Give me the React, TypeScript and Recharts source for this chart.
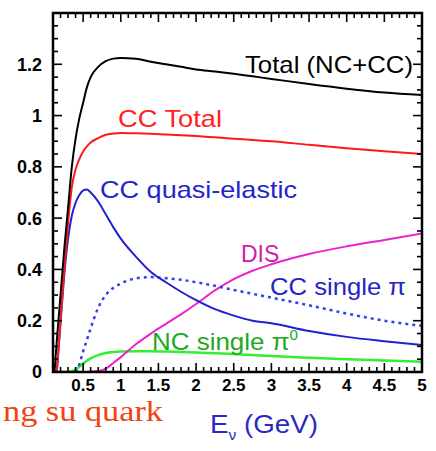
import React from 'react';
import { LineChart, Line, XAxis, YAxis } from 'recharts';

// Neutrino cross sections per nucleon vs E_nu (GeV)
const energies = [0.1, 0.12, 0.15, 0.2, 0.25, 0.3, 0.35, 0.4, 0.45, 0.5, 0.55, 0.6, 0.7, 0.8, 0.9, 1.0, 1.2, 1.4, 1.6, 1.8, 2.0, 2.25, 2.5, 2.75, 3.0, 3.5, 4.0, 4.5, 5.0];

const totalNcCc = [null, 0, 0.12, 0.3, 0.48, 0.64, 0.8, 0.91, 0.99, 1.05, 1.11, 1.15, 1.19, 1.212, 1.222, 1.225, 1.222, 1.21, 1.2, 1.19, 1.18, 1.172, 1.163, 1.153, 1.143, 1.123, 1.105, 1.09, 1.08];
const ccTotal = [null, null, 0, 0.2, 0.4, 0.58, 0.72, 0.79, 0.83, 0.86, 0.88, 0.895, 0.912, 0.925, 0.93, 0.932, 0.931, 0.929, 0.926, 0.923, 0.92, 0.915, 0.91, 0.905, 0.9, 0.886, 0.873, 0.861, 0.85];
const ccQuasiElastic = [null, null, 0, 0.19, 0.38, 0.52, 0.61, 0.66, 0.69, 0.708, 0.712, 0.7, 0.665, 0.615, 0.565, 0.52, 0.45, 0.39, 0.35, 0.313, 0.28, 0.245, 0.22, 0.2, 0.19, 0.16, 0.137, 0.12, 0.105];
const ccSinglePi = [null, null, null, null, null, null, null, 0, 0.03, 0.08, 0.125, 0.17, 0.25, 0.3, 0.328, 0.345, 0.365, 0.37, 0.366, 0.36, 0.35, 0.336, 0.32, 0.305, 0.29, 0.26, 0.228, 0.2, 0.18];
const dis = [null, null, null, null, null, null, null, 0, 0, 0, 0, 0.001, 0.004, 0.013, 0.035, 0.058, 0.108, 0.15, 0.188, 0.225, 0.265, 0.318, 0.362, 0.395, 0.42, 0.46, 0.49, 0.515, 0.54];
const ncSinglePi0 = [0, 0, 0, 0, 0, 0, 0.003, 0.01, 0.02, 0.032, 0.044, 0.053, 0.066, 0.074, 0.078, 0.08, 0.081, 0.081, 0.08, 0.078, 0.076, 0.073, 0.07, 0.066, 0.062, 0.056, 0.05, 0.045, 0.04];

const xTicks = [0.5, 1, 1.5, 2, 2.5, 3, 3.5, 4, 4.5, 5];
const yTicks = [0, 0.2, 0.4, 0.6, 0.8, 1, 1.2];

const steps = (from: number, to: number, step: number) => {
  const out: number[] = [];
  for (let v = from; v <= to + 1e-9; v += step) out.push(Math.round(v * 100) / 100);
  return out;
};
const xMinor = steps(0.1, 5, 0.1);
const yMinor = steps(0, 1.4, 0.05);

const data = energies.map((e, i) => ({
  e,
  total: totalNcCc[i],
  cc: ccTotal[i],
  qe: ccQuasiElastic[i],
  pi: ccSinglePi[i],
  dis: dis[i],
  pi0: ncSinglePi0[i],
}));

const X_DOMAIN: [number, number] = [0.1, 5];
const Y_DOMAIN: [number, number] = [0, 1.4];
const FONT = '"Liberation Sans", Arial, sans-serif';

// chart box
const W = 436;
const H = 451;
const MARGIN = { top: 13, right: 14, bottom: 49, left: 0 };
const Y_AXIS_W = 53;
const X_AXIS_H = 30;
const X_LABEL_GAP = 7;
const Y_LABEL_GAP = 11;
const PLOT = {
  left: MARGIN.left + Y_AXIS_W,
  top: MARGIN.top,
  right: W - MARGIN.right,
  bottom: H - MARGIN.bottom - X_AXIS_H,
};

const isMajorX = (v: number) => xTicks.some((t) => Math.abs(t - v) < 1e-6);
const isMajorY = (v: number) => yTicks.some((t) => Math.abs(t - v) < 1e-6);
const tickLen = (major: boolean) => (major ? 9 : 5);

// bottom axis: inward tick + bold label on the major ones
const BottomTick = (props: any) => {
  const { x, y, payload } = props;
  const v = payload.value;
  const major = isMajorX(v);
  const y0 = y - X_LABEL_GAP;
  return (
    <g>
      <line x1={x} y1={y0} x2={x} y2={y0 - tickLen(major)} stroke="#000" strokeWidth={1.6} />
      {major && (
        <text x={x} y={y} dy="0.71em" textAnchor="middle" fill="#000" fontSize={17} fontWeight="bold" fontFamily={FONT}>
          {String(v)}
        </text>
      )}
    </g>
  );
};

// left axis: inward tick + bold label on the major ones
const LeftTick = (props: any) => {
  const { x, y, payload } = props;
  const v = payload.value;
  const major = isMajorY(v);
  const x0 = x + Y_LABEL_GAP;
  return (
    <g>
      <line x1={x0} y1={y} x2={x0 + tickLen(major)} y2={y} stroke="#000" strokeWidth={1.6} />
      {major && (
        <text x={x} y={y} dy="0.36em" textAnchor="end" fill="#000" fontSize={18} fontWeight="bold" fontFamily={FONT}>
          {String(v)}
        </text>
      )}
    </g>
  );
};

// top / right: tick marks only (mirrored axes sit on the frame)
const TopTick = (props: any) => {
  const { x, y, payload } = props;
  return <line x1={x} y1={y} x2={x} y2={y + tickLen(isMajorX(payload.value))} stroke="#000" strokeWidth={1.6} />;
};
const RightTick = (props: any) => {
  const { x, y, payload } = props;
  return <line x1={x} y1={y} x2={x - tickLen(isMajorY(payload.value))} y2={y} stroke="#000" strokeWidth={1.6} />;
};

const App: React.FC = () => {
  return (
    <div style={styles.page}>
      <LineChart width={W} height={H} data={data} margin={MARGIN}>
        <XAxis
          dataKey="e"
          type="number"
          domain={X_DOMAIN}
          allowDataOverflow
          ticks={xMinor}
          interval={0}
          height={X_AXIS_H}
          axisLine={false}
          tickLine={false}
          tickSize={0}
          tickMargin={X_LABEL_GAP}
          tick={<BottomTick />}
        />
        <YAxis
          type="number"
          domain={Y_DOMAIN}
          allowDataOverflow
          ticks={yMinor}
          interval={0}
          width={Y_AXIS_W}
          axisLine={false}
          tickLine={false}
          tickSize={0}
          tickMargin={Y_LABEL_GAP}
          tick={<LeftTick />}
        />
        <XAxis
          xAxisId="t"
          dataKey="e"
          orientation="top"
          type="number"
          domain={X_DOMAIN}
          allowDataOverflow
          mirror
          height={1}
          ticks={xMinor}
          interval={0}
          tickSize={0}
          tickMargin={0}
          tickLine={false}
          axisLine={false}
          tick={<TopTick />}
        />
        <YAxis
          yAxisId="r"
          orientation="right"
          type="number"
          domain={Y_DOMAIN}
          allowDataOverflow
          mirror
          width={1}
          ticks={yMinor}
          interval={0}
          tickSize={0}
          tickMargin={0}
          tickLine={false}
          axisLine={false}
          tick={<RightTick />}
        />

        <Line xAxisId="t" yAxisId="r" type="monotone" dataKey="pi0" stroke="#33ee33" strokeWidth={2.5} dot={false} isAnimationActive={false} />
        <Line xAxisId="t" yAxisId="r" type="monotone" dataKey="dis" stroke="#ee22cc" strokeWidth={2} dot={false} isAnimationActive={false} />
        <Line xAxisId="t" yAxisId="r" type="monotone" dataKey="pi" stroke="#3340ee" strokeWidth={2.5} strokeDasharray="3 4" dot={false} isAnimationActive={false} />
        <Line type="monotone" dataKey="qe" stroke="#2020d0" strokeWidth={2} dot={false} isAnimationActive={false} />
        <Line type="monotone" dataKey="cc" stroke="#ff1a1a" strokeWidth={2} dot={false} isAnimationActive={false} />
        <Line type="monotone" dataKey="total" stroke="#000" strokeWidth={2} dot={false} isAnimationActive={false} />
      </LineChart>

      <svg width={W} height={H} style={styles.overlay}>
        {/* plot frame */}
        <rect
          x={PLOT.left}
          y={PLOT.top}
          width={PLOT.right - PLOT.left}
          height={PLOT.bottom - PLOT.top}
          fill="none"
          stroke="#000"
          strokeWidth={2.5}
        />
        <g fontFamily={FONT} fontSize={24}>
          <text x={245} y={73} fill="#000" textLength={168} lengthAdjust="spacingAndGlyphs">Total (NC+CC)</text>
          <text x={118} y={127} fill="#ff2222" textLength={104} lengthAdjust="spacingAndGlyphs">CC Total</text>
          <text x={100} y={198} fill="#2424c8" textLength={197} lengthAdjust="spacingAndGlyphs">CC quasi-elastic</text>
          <text x={241} y={262} fill="#d020a8" fontSize={23}>DIS</text>
          <text x={270} y={295} fill="#2424c8" textLength={136} lengthAdjust="spacingAndGlyphs">CC single π</text>
          <text x={152} y={350} fill="#22a822" textLength={146} lengthAdjust="spacingAndGlyphs">
            NC single π<tspan fontSize={14} dy={-10}>0</tspan>
          </text>
          <text x={210} y={433} fill="#2a2ac0" fontSize={25} textLength={108} lengthAdjust="spacingAndGlyphs">
            E<tspan fontSize={14} dy={7}>ν</tspan>
            <tspan dy={-7}> (GeV)</tspan>
          </text>
        </g>
        <text
          x={3}
          y={421}
          fill="#ee4411"
          fontSize={30}
          textLength={160}
          lengthAdjust="spacingAndGlyphs"
          fontFamily='"Liberation Serif", "Times New Roman", serif'
        >
          ng su quark
        </text>
      </svg>
    </div>
  );
};

const styles: Record<string, React.CSSProperties> = {
  page: {
    position: 'absolute',
    left: 0,
    top: 0,
    width: W,
    height: H,
    background: '#fff',
    overflow: 'hidden',
  },
  overlay: {
    position: 'absolute',
    left: 0,
    top: 0,
    pointerEvents: 'none',
  },
};

export default App;
